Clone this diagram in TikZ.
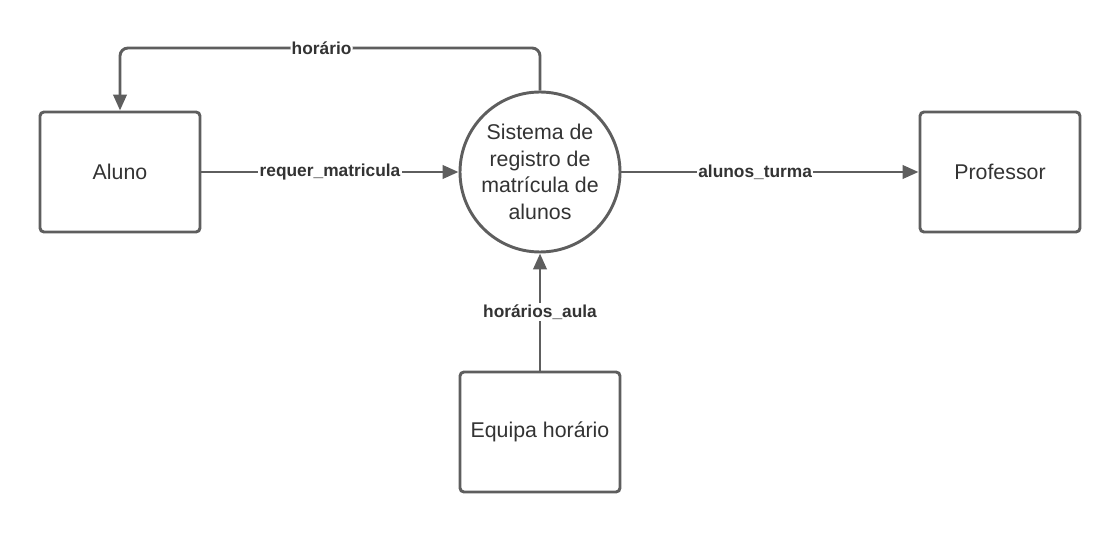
\documentclass[tikz,border=0pt]{standalone}
\usepackage{fontspec}
\setmainfont{Liberation Sans}
\usepackage{tikz}
\usetikzlibrary{arrows.meta,positioning,calc}
\definecolor{lineGray}{HTML}{5E5E5E}
\definecolor{textGray}{HTML}{333333}
\tikzset{
  entity/.style={rectangle, rounded corners=3pt, draw=lineGray, line width=2.2pt, fill=white, align=center, minimum width=120pt, minimum height=90pt, font=\fontsize{16}{20}\selectfont, text=textGray},
  process/.style={circle, draw=lineGray, line width=2.2pt, fill=white, align=center, minimum size=120pt, inner sep=0pt, font=\fontsize{16}{20}\selectfont, text=textGray},
  flow/.style={-{Triangle[length=12pt,width=10pt]}, line width=2.2pt, draw=lineGray},
  flowlabel/.style={fill=white, inner sep=1pt, font=\fontsize{13}{15}\selectfont\bfseries, text=textGray}
}
\begin{document}
\begin{tikzpicture}[x=0.75pt,y=0.75pt]
  \useasboundingbox (0,0) rectangle (1120,532);
  \node[process] (sistema) at (540,360) {Sistema de\\registro de\\matrícula de\\alunos};
  \node[entity] (aluno) at (120,360) {Aluno};
  \node[entity] (professor) at (1000,360) {Professor};
  \node[entity] (equipa) at (540,100) {Equipa horário};
  \coordinate (topright) at (540,484);
  \coordinate (topleft) at (120,484);
  \draw[flow, rounded corners=6pt] (sistema.north) -- (topright) -- node[flowlabel, pos=0.52] {horário} (topleft) -- (aluno.north);
  \draw[flow] (aluno) -- node[flowlabel] {requer\_matricula} (sistema);
  \draw[flow] (sistema) -- node[flowlabel, pos=0.45] {alunos\_turma} (professor);
  \draw[flow] (equipa) -- node[flowlabel] {horários\_aula} (sistema);
\end{tikzpicture}
\end{document}
